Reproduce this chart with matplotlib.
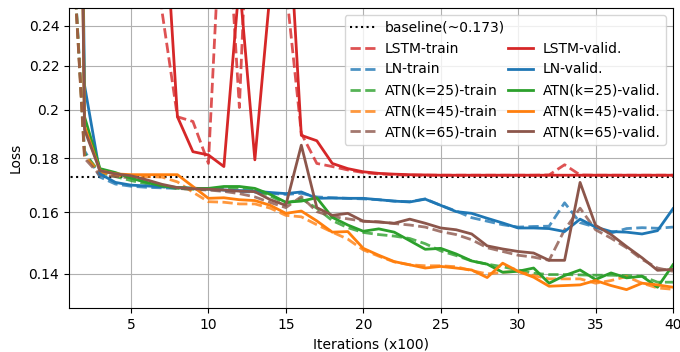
import matplotlib.pyplot as plt
from matplotlib.ticker import FixedLocator, FuncFormatter, NullLocator

# iterations (x100)
iters = list(range(1, 41))
baseline = 0.173

lstm_train = [1.2, 0.9, 0.7, 0.55, 0.45, 0.36, 0.248, 0.197, 0.195, 0.178,
              0.35, 0.201, 0.45, 0.33, 0.262, 0.190, 0.178, 0.1768, 0.1755, 0.1745,
              0.174, 0.1737, 0.1735, 0.1735, 0.1735, 0.1735, 0.1735, 0.1735, 0.1735, 0.1735,
              0.1735, 0.1736, 0.1775, 0.1736, 0.1735, 0.1735, 0.1735, 0.1735, 0.1735, 0.1735]
lstm_valid = [3.0, 1.5, 1.0, 0.8, 0.6, 0.45, 0.34, 0.197, 0.1826, 0.1813,
              0.1768, 0.264, 0.1794, 0.26, 0.34, 0.1892, 0.187, 0.178, 0.176, 0.1748,
              0.1742, 0.1739, 0.1737, 0.1736, 0.1735, 0.1735, 0.1735, 0.1735, 0.1735, 0.1735,
              0.1735, 0.1735, 0.1735, 0.1735, 0.1735, 0.1735, 0.1735, 0.1735, 0.1735, 0.1735]

ln_train = [0.33, 0.183, 0.1728, 0.1702, 0.1694, 0.169, 0.1688, 0.1686, 0.1684, 0.1682,
            0.1678, 0.1675, 0.1672, 0.1668, 0.1664, 0.1668, 0.1655, 0.1652, 0.165, 0.1648,
            0.1645, 0.164, 0.1638, 0.1648, 0.1625, 0.1605, 0.1582, 0.157, 0.1558, 0.155,
            0.1552, 0.1553, 0.1634, 0.1565, 0.155, 0.153, 0.1545, 0.1548, 0.1546, 0.1550]
ln_valid = [3.0, 0.211, 0.174, 0.1708, 0.1698, 0.1695, 0.1692, 0.1689, 0.1687, 0.1684,
            0.168, 0.1678, 0.1676, 0.1671, 0.1667, 0.1673, 0.165, 0.1651, 0.165, 0.165,
            0.1645, 0.164, 0.1637, 0.1647, 0.1625, 0.1603, 0.1597, 0.158, 0.1564, 0.1547,
            0.1547, 0.1545, 0.1535, 0.1577, 0.155, 0.1535, 0.1533, 0.1527, 0.1538, 0.1613]

atn25_train = [0.33, 0.182, 0.1745, 0.173, 0.1715, 0.1703, 0.1692, 0.1686, 0.1683, 0.1683,
               0.1688, 0.1688, 0.168, 0.1658, 0.1632, 0.1648, 0.1615, 0.1572, 0.1548, 0.1532,
               0.1525, 0.152, 0.1512, 0.1495, 0.1472, 0.1457, 0.144, 0.143, 0.1422, 0.1412,
               0.1402, 0.1398, 0.1398, 0.1397, 0.1396, 0.1396, 0.1395, 0.1393, 0.1375, 0.1375]
atn25_valid = [3.0, 0.197, 0.176, 0.1745, 0.1724, 0.1708, 0.1695, 0.1689, 0.1686, 0.1686,
               0.1693, 0.1693, 0.1686, 0.1664, 0.1636, 0.164, 0.1652, 0.1583, 0.1557, 0.1536,
               0.1544, 0.1533, 0.1505, 0.1477, 0.148, 0.1462, 0.144, 0.143, 0.1405, 0.1408,
               0.1418, 0.1372, 0.1395, 0.1412, 0.1383, 0.1403, 0.1388, 0.1393, 0.136, 0.1428]

atn45_train = [0.33, 0.181, 0.1745, 0.1735, 0.173, 0.173, 0.1728, 0.171, 0.1672, 0.1638,
               0.1636, 0.163, 0.163, 0.1615, 0.159, 0.1585, 0.1558, 0.1533, 0.151, 0.1475,
               0.1455, 0.1437, 0.1428, 0.1425, 0.1425, 0.1422, 0.141, 0.14, 0.1405, 0.1408,
               0.1395, 0.1385, 0.1385, 0.1385, 0.1372, 0.138, 0.1392, 0.1372, 0.1358, 0.1354]
atn45_valid = [3.0, 0.193, 0.1752, 0.174, 0.1737, 0.1737, 0.1737, 0.1737, 0.1693, 0.165,
               0.1652, 0.1645, 0.1642, 0.1625, 0.1597, 0.1605, 0.1571, 0.1533, 0.1535, 0.148,
               0.1458, 0.1438, 0.1428, 0.1418, 0.1423, 0.1418, 0.1412, 0.1389, 0.1433, 0.1408,
               0.139, 0.1363, 0.1365, 0.1367, 0.138, 0.1365, 0.1353, 0.1372, 0.1367, 0.136]

atn65_train = [0.33, 0.180, 0.1735, 0.173, 0.1725, 0.171, 0.1697, 0.1686, 0.1682, 0.168,
               0.1675, 0.1667, 0.1655, 0.1635, 0.1617, 0.1656, 0.1603, 0.1586, 0.1578, 0.157,
               0.1568, 0.1562, 0.1557, 0.155, 0.1535, 0.1525, 0.1508, 0.1482, 0.147, 0.1458,
               0.1452, 0.1442, 0.1541, 0.1615, 0.1541, 0.1513, 0.1482, 0.1445, 0.1418, 0.1408]
atn65_valid = [3.0, 0.1915, 0.1752, 0.174, 0.1733, 0.1718, 0.1701, 0.1689, 0.1685, 0.1683,
               0.168, 0.1676, 0.1674, 0.1645, 0.1625, 0.1852, 0.1617, 0.159, 0.1597, 0.157,
               0.1567, 0.1563, 0.1577, 0.1563, 0.1547, 0.1541, 0.1527, 0.1488, 0.1478, 0.147,
               0.1465, 0.1442, 0.1442, 0.1708, 0.1556, 0.1525, 0.1486, 0.145, 0.1411, 0.1414]

yticks = [0.14, 0.16, 0.18, 0.2, 0.22, 0.24]

series = [
    ('LSTM', lstm_train, lstm_valid, 'tab:red'),
    ('LN', ln_train, ln_valid, 'tab:blue'),
    ('ATN(k=25)', atn25_train, atn25_valid, 'tab:green'),
    ('ATN(k=45)', atn45_train, atn45_valid, 'tab:orange'),
    ('ATN(k=65)', atn65_train, atn65_valid, 'tab:brown'),
]

fig, ax = plt.subplots(figsize=(6.8, 3.52), dpi=100)
fig.subplots_adjust(left=0.1015, right=0.9897, top=0.977, bottom=0.125)

base_line, = ax.plot([0, 41], [baseline, baseline], ':', color='black', lw=1.5,
                     label='baseline(~0.173)')
train_lines = []
valid_lines = []
for name, tr, va, c in series:
    l1, = ax.plot(iters, tr, '--', color=c, alpha=0.8, lw=2, label=name + '-train')
    train_lines.append(l1)
for name, tr, va, c in series:
    l2, = ax.plot(iters, va, '-', color=c, lw=2, label=name + '-valid.')
    valid_lines.append(l2)

ax.set_yscale('log')
ax.set_xlim(1, 40)
ax.set_ylim(0.130, 0.2495)
ax.yaxis.set_major_locator(FixedLocator(yticks))
ax.yaxis.set_minor_locator(NullLocator())
ax.yaxis.set_major_formatter(FuncFormatter(lambda v, p: f'{v:g}'))
ax.yaxis.set_minor_formatter(FuncFormatter(lambda v, p: ''))
ax.set_xticks([5, 10, 15, 20, 25, 30, 35, 40])
ax.grid(True)
ax.set_xlabel('Iterations (x100)')
ax.set_ylabel('Loss')

# blank slot so the valid column starts on the second row
blank = plt.Line2D([], [], alpha=0)
handles = [base_line] + train_lines + [blank] + valid_lines
labels = [h.get_label() for h in [base_line] + train_lines] + [''] + \
         [h.get_label() for h in valid_lines]
ax.legend(handles, labels, loc='upper right', ncol=2, columnspacing=0.2,
          handlelength=1.8, handletextpad=0.7, borderpad=0.4)

plt.savefig('out.png')
